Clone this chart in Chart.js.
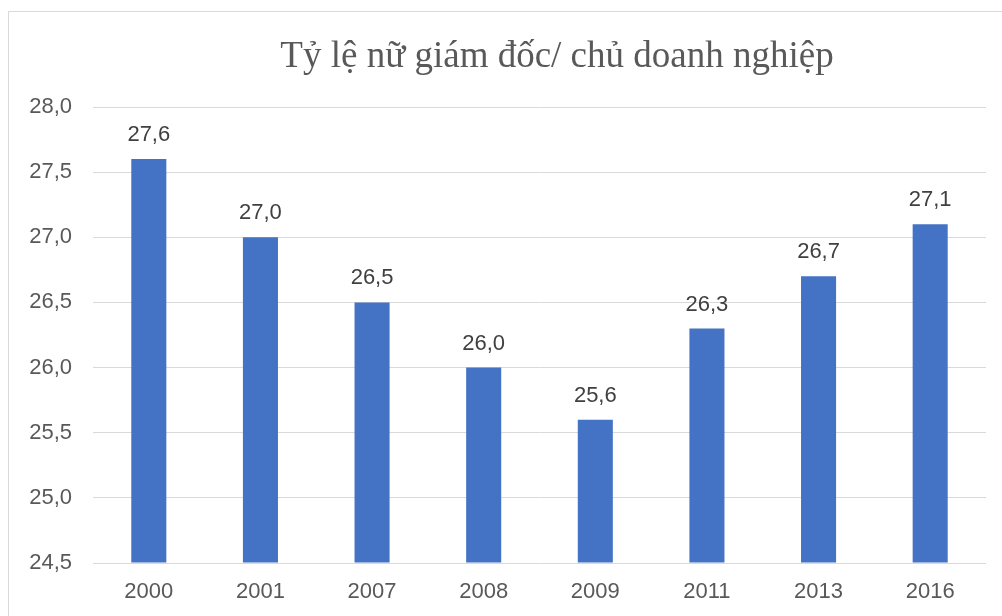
<!DOCTYPE html>
<html>
<head>
<meta charset="utf-8">
<script src="https://cdn.jsdelivr.net/npm/chart.js@4"></script>
<style>
html,body{margin:0;padding:0;background:#fff;}
#wrap{width:1002px;height:616px;position:relative;}
</style>
</head>
<body>
<div id="wrap"><canvas id="c" width="1002" height="616"></canvas></div>
<script>
const titleText = 'Tỷ lệ nữ giám đốc/ chủ doanh nghiệp';
const categories = ['2000','2001','2007','2008','2009','2011','2013','2016'];
const values = [27.6, 27.0, 26.5, 26.0, 25.6, 26.3, 26.7, 27.1];
const yMin = 24.5, yMax = 28.0, yStep = 0.5;

const fmt = v => Number(v).toFixed(1).replace('.', ',');

const frameAndTitle = {
  id: 'frameAndTitle',
  beforeDraw(chart) {
    const ctx = chart.ctx;
    ctx.save();
    ctx.fillStyle = '#fff';
    ctx.fillRect(0, 0, chart.width, chart.height);
    ctx.strokeStyle = '#d9d9d9';
    ctx.lineWidth = 1;
    ctx.strokeRect(8.5, 11.5, 1200, 700);
    ctx.restore();
  },
  afterDraw(chart) {
    const ctx = chart.ctx;
    ctx.save();
    ctx.fillStyle = '#595959';
    ctx.font = '37px "Liberation Serif", "Times New Roman", serif';
    ctx.textAlign = 'center';
    ctx.textBaseline = 'alphabetic';
    ctx.fillText(titleText, 557, 67);
    ctx.restore();
  }
};

const dataLabels = {
  id: 'dataLabels',
  afterDatasetsDraw(chart) {
    const ctx = chart.ctx;
    const meta = chart.getDatasetMeta(0);
    ctx.save();
    ctx.fillStyle = '#404040';
    ctx.font = '22px "Liberation Sans", Arial, sans-serif';
    ctx.textAlign = 'center';
    ctx.textBaseline = 'middle';
    meta.data.forEach((bar, i) => {
      ctx.fillText(fmt(values[i]), bar.x, bar.y - 24);
    });
    ctx.restore();
  }
};

new Chart(document.getElementById('c'), {
  type: 'bar',
  data: {
    labels: categories,
    datasets: [{
      data: values,
      backgroundColor: '#4472C4',
      borderWidth: 0,
      barPercentage: 0.314,
      categoryPercentage: 1.0,
      base: yMin
    }]
  },
  options: {
    responsive: false,
    animation: false,
    devicePixelRatio: 1,
    layout: { padding: { left: 0, right: 16, top: 107, bottom: 0 } },
    plugins: {
      legend: { display: false },
      title: { display: false },
      tooltip: { enabled: false }
    },
    scales: {
      x: {
        grid: { display: false, drawTicks: false },
        border: { display: false },
        ticks: {
          color: '#595959',
          font: { family: '"Liberation Sans", Arial, sans-serif', size: 22 },
          padding: 16,
          maxRotation: 0
        },
        afterFit(scale) { scale.height = 53; }
      },
      y: {
        min: yMin,
        max: yMax,
        grid: { color: '#d9d9d9', lineWidth: 1, drawTicks: false },
        border: { display: false },
        ticks: {
          stepSize: yStep,
          color: '#595959',
          font: { family: '"Liberation Sans", Arial, sans-serif', size: 22 },
          padding: 21,
          callback: v => fmt(v)
        },
        afterFit(scale) { scale.width = 93; }
      }
    }
  },
  plugins: [frameAndTitle, dataLabels]
});
</script>
</body>
</html>
